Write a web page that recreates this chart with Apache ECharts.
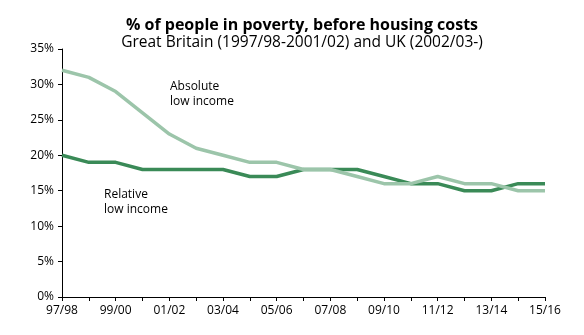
<!DOCTYPE html>
<html>
<head>
<meta charset="utf-8">
<script src="https://cdn.jsdelivr.net/npm/echarts@6/dist/echarts.min.js"></script>
<style>
html,body{margin:0;padding:0;background:#fff;}
#chart{width:584px;height:335px;}
</style>
</head>
<body>
<div id="chart"></div>
<script>
var categories = ['97/98','98/99','99/00','00/01','01/02','02/03','03/04','04/05','05/06','06/07','07/08','08/09','09/10','10/11','11/12','12/13','13/14','14/15','15/16'];
var relativeLowIncome = [20,19,19,18,18,18,18,17,17,18,18,18,17,16,16,15,15,16,16];
var absoluteLowIncome = [32,31,29,26,23,21,20,19,19,18,18,17,16,16,17,16,16,15,15];
var yTicks = [0,5,10,15,20,25,30,35];

var FONT = '"Open Sans", "Noto Sans", sans-serif';
var chart = echarts.init(document.getElementById('chart'), null, {renderer:'canvas'});
chart.setOption({
  animation: false,
  backgroundColor: '#fff',
  title: [{
    text: '% of people in poverty, before housing costs',
    left: 297, top: 12, textAlign: 'center',
    textStyle: {fontFamily: FONT, fontSize: 16, fontWeight: 'bold', color: '#000'}
  },{
    text: 'Great Britain (1997/98-2001/02) and UK (2002/03-)',
    left: 297, top: 30, textAlign: 'center',
    textStyle: {fontFamily: FONT, fontSize: 15.5, fontWeight: 'normal', color: '#000'}
  }],
  grid: {left: 62, right: 39, top: 49, bottom: 38},
  xAxis: {
    type: 'category', data: categories, boundaryGap: false,
    axisLine: {lineStyle: {color: '#000', width: 1}},
    axisTick: {show: true, interval: 0, length: 4, lineStyle: {color: '#000'}},
    axisLabel: {interval: 1, color: '#000', fontFamily: FONT, fontSize: 12, margin: 8},
    splitLine: {show: false}
  },
  yAxis: {
    type: 'value', min: yTicks[0], max: yTicks[yTicks.length-1], interval: 5,
    axisLine: {show: true, lineStyle: {color: '#000', width: 1}},
    axisTick: {show: true, length: 4, lineStyle: {color: '#000'}},
    axisLabel: {formatter: '{value}%', color: '#000', fontFamily: FONT, fontSize: 12, margin: 8},
    splitLine: {show: false}
  },
  series: [{
    name: 'Relative low income', type: 'line', data: relativeLowIncome,
    symbol: 'none', lineStyle: {color: '#3a8a57', width: 3.5}
  },{
    name: 'Absolute low income', type: 'line', data: absoluteLowIncome,
    symbol: 'none', lineStyle: {color: '#9cc5aa', width: 3.5}
  }],
  graphic: [{
    type: 'text', left: 170, top: 79,
    style: {text: 'Absolute\nlow income', fontFamily: FONT, fontSize: 12, lineHeight: 15, fill: '#000'}
  },{
    type: 'text', left: 104, top: 187,
    style: {text: 'Relative\nlow income', fontFamily: FONT, fontSize: 12, lineHeight: 15, fill: '#000'}
  }]
});
</script>
</body>
</html>
